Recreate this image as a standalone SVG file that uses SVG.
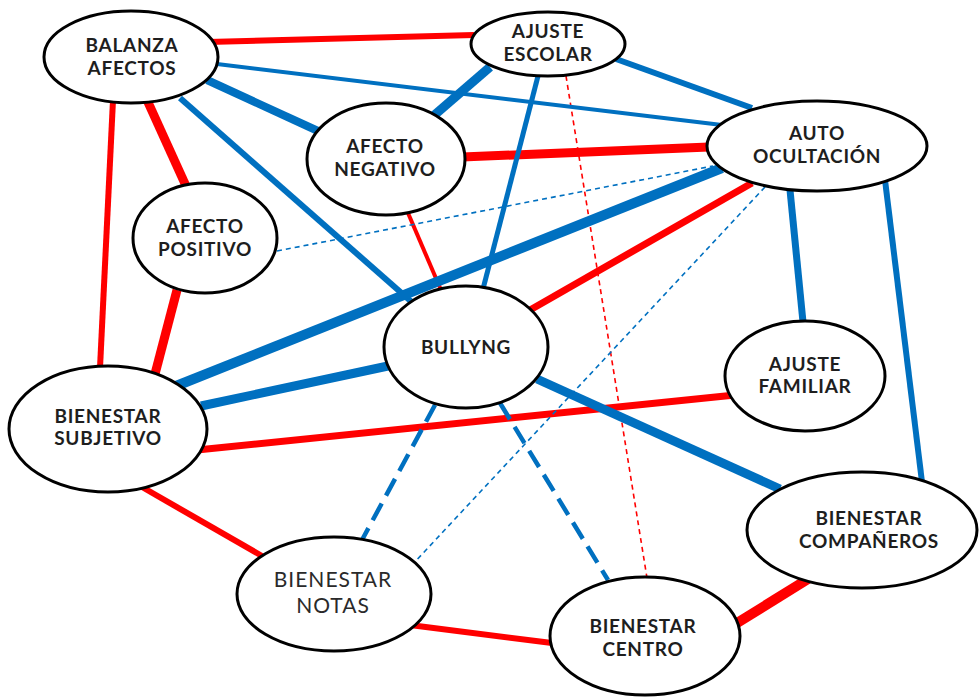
<svg xmlns="http://www.w3.org/2000/svg" width="980" height="700" viewBox="0 0 980 700">
<style>
.r{stroke:#FF0000;fill:none}
.b{stroke:#0070C0;fill:none}
.dt{stroke-dasharray:5 4}
.dk{stroke-dasharray:19 9}
.n ellipse{fill:#fff;stroke:#000;stroke-width:3}
.n text{font-family:Lato,"Liberation Sans",sans-serif;font-weight:bold;font-size:19px;letter-spacing:0.7px;fill:#1e1e1e;text-anchor:middle}
.n text.reg{font-weight:normal;font-size:21px;letter-spacing:1px;fill:#2a2a2a}
</style>
<rect width="980" height="700" fill="#fff"/>
<g id="connectors">
<line class="r" x1="208" y1="42" x2="474" y2="35" stroke-width="6"/>
<line class="r" x1="147" y1="100" x2="186" y2="186" stroke-width="9"/>
<line class="r" x1="113" y1="100" x2="100" y2="368" stroke-width="6"/>
<line class="r" x1="177" y1="290" x2="155" y2="374" stroke-width="9"/>
<line class="r" x1="462" y1="157" x2="709" y2="147" stroke-width="9"/>
<line class="r" x1="408" y1="213" x2="441" y2="290" stroke-width="4"/>
<line class="r" x1="752" y1="183" x2="530" y2="310" stroke-width="7"/>
<line class="r" x1="197" y1="450" x2="735" y2="395" stroke-width="7"/>
<line class="r" x1="142" y1="487" x2="262" y2="556" stroke-width="6"/>
<line class="r" x1="410" y1="625" x2="552" y2="643" stroke-width="6"/>
<line class="r" x1="737" y1="623" x2="808" y2="579" stroke-width="10"/>
<line class="r dt" x1="566" y1="76" x2="647" y2="578" stroke-width="1.6"/>
<line class="b" x1="217" y1="64" x2="722" y2="125" stroke-width="4"/>
<line class="b" x1="207" y1="80" x2="318" y2="131" stroke-width="8"/>
<line class="b" x1="180" y1="98" x2="414" y2="304" stroke-width="6"/>
<line class="b" x1="490" y1="67" x2="431" y2="118" stroke-width="9"/>
<line class="b" x1="538" y1="76" x2="483" y2="289" stroke-width="5"/>
<line class="b" x1="616" y1="59" x2="752" y2="108" stroke-width="6"/>
<line class="b" x1="722" y1="168" x2="176" y2="386" stroke-width="10"/>
<line class="b" x1="790" y1="190" x2="803" y2="322" stroke-width="7"/>
<line class="b" x1="885" y1="180" x2="922" y2="482" stroke-width="6"/>
<line class="b" x1="388" y1="366" x2="201" y2="406" stroke-width="9"/>
<line class="b" x1="537" y1="379" x2="780" y2="489" stroke-width="9"/>
<line class="b dk" x1="435" y1="405" x2="362" y2="540" stroke-width="4.5"/>
<line class="b dk" x1="500" y1="403" x2="608" y2="580" stroke-width="4.5"/>
<line class="b dt" x1="277" y1="251" x2="713" y2="166" stroke-width="1.6"/>
<line class="b dt" x1="765" y1="187" x2="412" y2="565" stroke-width="1.6"/>
</g>
<g id="balanza" class="n"><ellipse cx="131" cy="57" rx="87" ry="46"/><text x="132" y="52">BALANZA</text><text x="132" y="75">AFECTOS</text></g>
<g id="ajuste-escolar" class="n"><ellipse cx="548" cy="44" rx="77" ry="32"/><text x="548" y="38">AJUSTE</text><text x="548" y="61">ESCOLAR</text></g>
<g id="afecto-negativo" class="n"><ellipse cx="386" cy="159" rx="79" ry="56"/><text x="385" y="153">AFECTO</text><text x="385" y="176">NEGATIVO</text></g>
<g id="auto-ocultacion" class="n"><ellipse cx="817" cy="146" rx="110" ry="45"/><text x="817" y="140">AUTO</text><text x="817" y="163">OCULTACIÓN</text></g>
<g id="afecto-positivo" class="n"><ellipse cx="205" cy="238" rx="72" ry="55"/><text x="205" y="233">AFECTO</text><text x="205" y="256">POSITIVO</text></g>
<g id="bullyng" class="n"><ellipse cx="466" cy="347" rx="82" ry="61"/><text x="466" y="354">BULLYNG</text></g>
<g id="ajuste-familiar" class="n"><ellipse cx="805" cy="376" rx="80" ry="55"/><text x="805" y="371">AJUSTE</text><text x="805" y="393">FAMILIAR</text></g>
<g id="bienestar-subjetivo" class="n"><ellipse cx="108" cy="429" rx="99" ry="63"/><text x="108" y="423">BIENESTAR</text><text x="108" y="445">SUBJETIVO</text></g>
<g id="bienestar-companeros" class="n"><ellipse cx="862" cy="530" rx="115" ry="58"/><text x="869" y="525">BIENESTAR</text><text x="869" y="548">COMPAÑEROS</text></g>
<g id="bienestar-notas" class="n"><ellipse cx="334" cy="594" rx="97" ry="57"/><text class="reg" x="333" y="587">BIENESTAR</text><text class="reg" x="333" y="613">NOTAS</text></g>
<g id="bienestar-centro" class="n"><ellipse cx="645" cy="636" rx="95" ry="59"/><text x="643" y="633">BIENESTAR</text><text x="643" y="656">CENTRO</text></g>
</svg>
